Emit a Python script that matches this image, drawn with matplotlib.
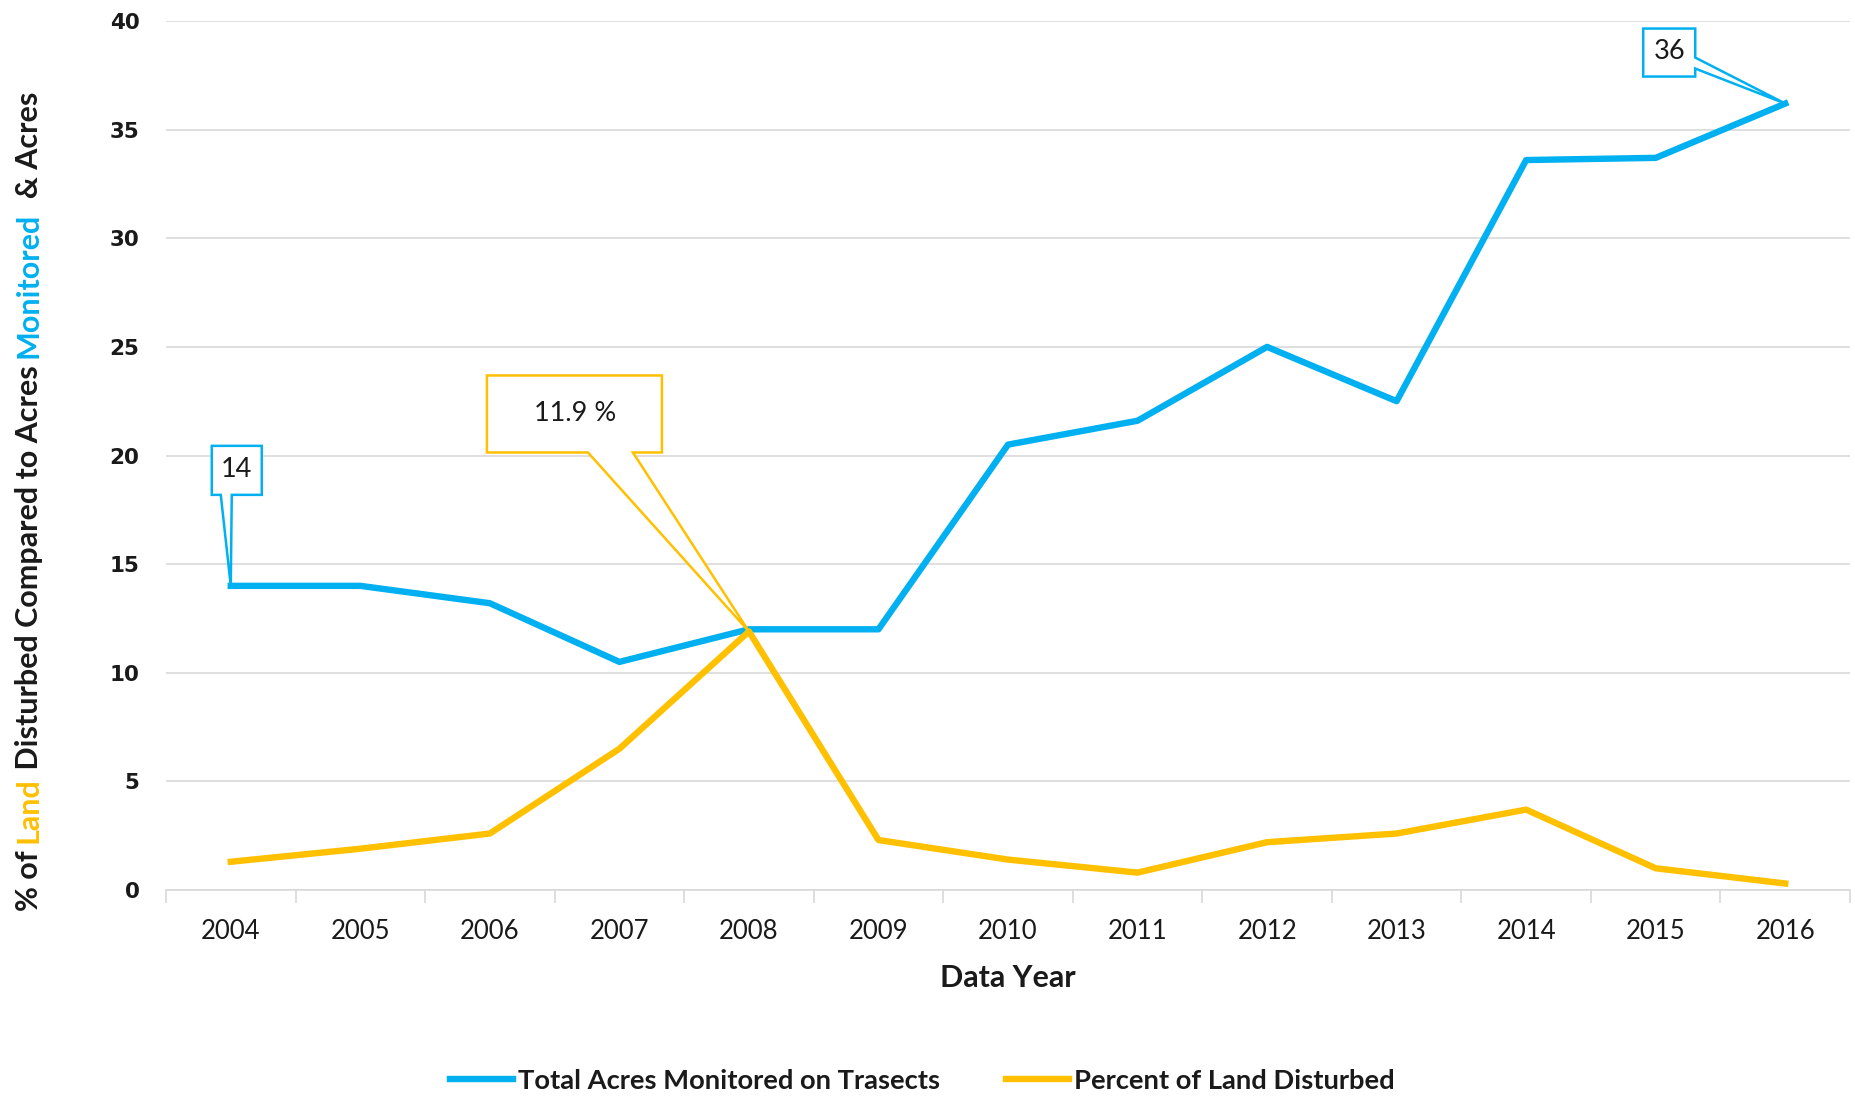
import matplotlib.pyplot as plt
from matplotlib.lines import Line2D
from matplotlib.patches import Polygon
from matplotlib.transforms import Affine2D, IdentityTransform

# dados
years = ["2004", "2005", "2006", "2007", "2008", "2009", "2010",
         "2011", "2012", "2013", "2014", "2015", "2016"]
acres_monitored = [14.0, 14.0, 13.2, 10.5, 12.0, 12.0, 20.5,
                   21.6, 25.0, 22.5, 33.6, 33.7, 36.2]
percent_disturbed = [1.3, 1.9, 2.6, 6.5, 11.9, 2.3, 1.4,
                     0.8, 2.2, 2.6, 3.7, 1.0, 0.3]
y_ticks = [0, 5, 10, 15, 20, 25, 30, 35, 40]

BLUE = "#00B0F0"
ORANGE = "#FFC000"
GRID = "#D9D9D9"
TEXT = "#1A1A1A"

W, H = 1856, 1097


def callout(ax, x, y, label, verts, center, color):
    # caixa com ponteiro desenhada em pixels a partir do ponto de dados
    tip = ax.transData.transform((x, y))
    trans = Affine2D().translate(*tip) + IdentityTransform()
    ax.add_patch(Polygon(verts, closed=True, facecolor="white", edgecolor=color,
                         lw=1.8, transform=trans, clip_on=False, zorder=5))
    ax.text(center[0], center[1], label, transform=trans, ha="center", va="center",
            fontsize=19.5, family="Lato", color=TEXT, zorder=6)


fig = plt.figure(figsize=(W / 100, H / 100), dpi=100)
ax = fig.add_axes([166 / W, 1 - 890 / H, (1850 - 166) / W, (890 - 21) / H])

x = list(range(len(years)))
ax.plot(x, acres_monitored, color=BLUE, lw=4.6, zorder=3)
ax.plot(x, percent_disturbed, color=ORANGE, lw=4.6, zorder=3)

ax.set_xlim(-0.5, len(years) - 0.5)
ax.set_ylim(y_ticks[0], y_ticks[-1])

# eixo y
ax.set_yticks(y_ticks)
ax.set_yticklabels([str(v) for v in y_ticks], family="DejaVu Sans",
                   fontweight="bold", fontsize=15.5, color=TEXT)
ax.tick_params(axis="y", length=0, pad=19)
ax.yaxis.grid(True, color=GRID, lw=1.2)
ax.set_axisbelow(True)

# eixo x: marcas entre categorias, rotulos no centro
ax.set_xticks([i - 0.5 for i in range(len(years) + 1)])
ax.set_xticklabels([])
ax.set_xticks(x, minor=True)
ax.set_xticklabels(years, minor=True, family="Lato", fontsize=18.5, color=TEXT)
ax.tick_params(axis="x", which="major", length=9, width=1.2, color=GRID)
ax.tick_params(axis="x", which="minor", length=0, pad=21)

for lado in ["top", "right", "left"]:
    ax.spines[lado].set_visible(False)
ax.spines["bottom"].set_color(GRID)
ax.spines["bottom"].set_linewidth(1.2)

fig.text(1008 / W, 1 - 978 / H, "Data Year", ha="center", va="center",
         family="Lato", fontweight="bold", fontsize=22, color=TEXT)

# rotulo do eixo y com partes coloridas
fig.canvas.draw()
renderer = fig.canvas.get_renderer()
pieces = [("% of ", TEXT), ("Land", ORANGE), (" Disturbed Compared to Acres ", TEXT),
          ("Monitored", BLUE), ("  & Acres", TEXT)]
pos = 186
for texto, cor in pieces:
    t = fig.text(38, pos, texto, transform=IdentityTransform(), rotation=90,
                 rotation_mode="anchor", ha="left", va="baseline",
                 family="Lato", fontweight="bold", fontsize=22, color=cor)
    pos += t.get_window_extent(renderer).height

# caixas de destaque
callout(ax, 0, acres_monitored[0], f"{acres_monitored[0]:.0f}",
        [(0, 0), (1, 91), (31, 91), (31, 140), (-19, 140), (-19, 91), (-10, 91)],
        (6, 116), BLUE)
callout(ax, 4, percent_disturbed[4], f"{percent_disturbed[4]:.1f} %",
        [(0, 0), (-116, 179), (-87, 179), (-87, 256), (-262, 256), (-262, 179), (-161, 179)],
        (-174, 218), ORANGE)
callout(ax, 12, acres_monitored[12], f"{acres_monitored[12]:.0f}",
        [(0, 0), (-90, 35), (-90, 27), (-142, 27), (-142, 75), (-90, 75), (-90, 46)],
        (-116, 52), BLUE)

handles = [Line2D([], [], color=BLUE, lw=4.6), Line2D([], [], color=ORANGE, lw=4.6)]
fig.legend(handles, ["Total Acres Monitored on Trasects", "Percent of Land Disturbed"],
           loc="center", bbox_to_anchor=(0.497, 1 - 1081 / H), ncol=2, frameon=False,
           prop=dict(family="Lato", weight="bold", size=19.7), labelcolor=TEXT,
           handlelength=2.3, handletextpad=0.2, columnspacing=2.4)

fig.savefig("out.png", dpi=100)
